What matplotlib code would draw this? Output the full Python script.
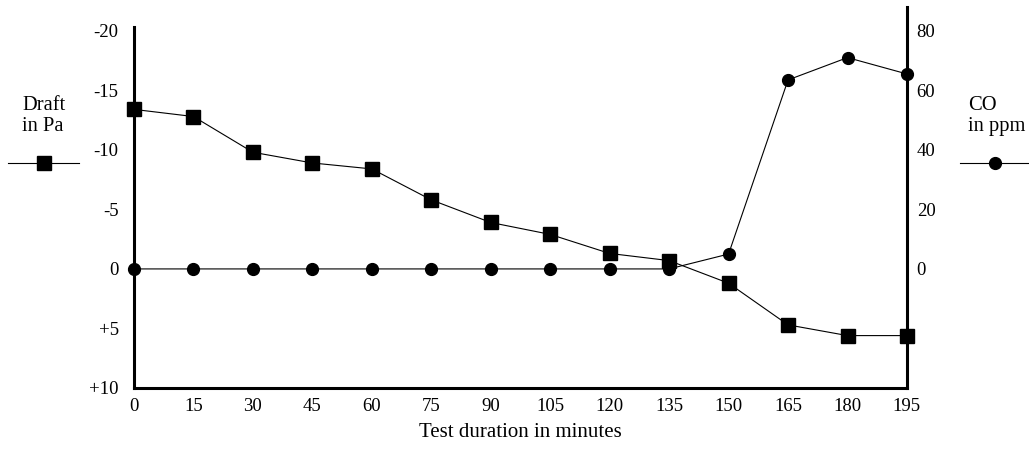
import matplotlib.pyplot as plt
from matplotlib.lines import Line2D

plt.rcParams["font.family"] = ["Liberation Serif", "DejaVu Serif"]

minutes = [0, 15, 30, 45, 60, 75, 90, 105, 120, 135, 150, 165, 180, 195]
draft_pa = [-13.4, -12.8, -9.8, -8.9, -8.4, -5.8, -3.9, -2.9, -1.3, -0.7, 1.2, 4.7, 5.6, 5.6]
co_ppm = [0, 0, 0, 0, 0, 0, 0, 0, 0, 0, 5, 63.5, 71, 65.5]

left_ticks = [-20, -15, -10, -5, 0, 5, 10]
left_labels = ["-20", "-15", "-10", "-5", "0", "+5", "+10"]
right_ticks = [0, 20, 40, 60, 80]

fig = plt.figure(figsize=(10.29, 4.55), dpi=100)
ax = fig.add_axes([0.1302, 0.1473, 0.8814 - 0.1302, 0.9846 - 0.1473])
ax2 = ax.twinx()

ax.set_xlim(0, 195)
ax.set_ylim(10, -22)
ax2.set_ylim(-40, 88)

ax.plot(minutes, draft_pa, color="black", lw=0.8, marker="s", ms=9.5,
        clip_on=False, zorder=5)
ax2.plot(minutes, co_ppm, color="black", lw=0.8, marker="o", ms=8.5,
         clip_on=False, zorder=5)

for a in (ax, ax2):
    a.spines["top"].set_visible(False)
    a.patch.set_visible(False)
ax.spines["right"].set_visible(False)
ax2.spines["left"].set_visible(False)
ax2.spines["bottom"].set_visible(False)
ax.spines["left"].set_linewidth(2.2)
ax.spines["bottom"].set_linewidth(2.2)
ax2.spines["right"].set_linewidth(2.2)
ax.spines["left"].set_bounds(10, -20.3)

ax.set_xticks(minutes)
ax.set_yticks(left_ticks)
ax.set_yticklabels(left_labels)
ax2.set_yticks(right_ticks)
ax.tick_params(axis="y", length=0, pad=11, labelsize=13.5)
ax.tick_params(axis="x", length=0, pad=7, labelsize=13.5)
ax2.tick_params(axis="y", length=0, pad=7, labelsize=13.5)

ax.set_xlabel("Test duration in minutes", fontsize=15, labelpad=6)

# legend keys beside each axis
fig.text(22 / 1029, 1 - 116 / 455, "Draft\nin Pa", fontsize=14.8,
         ha="left", va="center", linespacing=1.1)
fig.add_artist(Line2D([8 / 1029, 79 / 1029], [1 - 163 / 455] * 2,
                      color="black", lw=0.8))
fig.add_artist(Line2D([44 / 1029], [1 - 163 / 455], color="black",
                      marker="s", ms=9.5))

fig.text(968 / 1029, 1 - 116 / 455, "CO\nin ppm", fontsize=14.8,
         ha="left", va="center", linespacing=1.1)
fig.add_artist(Line2D([960 / 1029, 1.0], [1 - 163 / 455] * 2,
                      color="black", lw=0.8))
fig.add_artist(Line2D([995 / 1029], [1 - 163 / 455], color="black",
                      marker="o", ms=8.5))

fig.savefig("out.png", dpi=100)
